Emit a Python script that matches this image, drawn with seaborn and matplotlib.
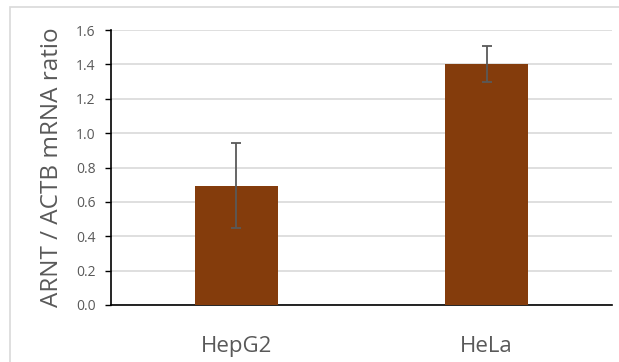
import seaborn as sns
import matplotlib.pyplot as plt
import pandas as pd
from matplotlib.patches import Rectangle

# data
cell_lines = ['HepG2', 'HeLa']
ratio = [0.695, 1.40]
ratio_err = [0.245, 0.105]
y_ticks = [0.0, 0.2, 0.4, 0.6, 0.8, 1.0, 1.2, 1.4, 1.6]

df = pd.DataFrame({'cell': cell_lines, 'ratio': ratio})

sns.set_style('white')
plt.rcParams['font.family'] = ['Open Sans', 'DejaVu Sans']

fig = plt.figure(figsize=(6.19, 3.62), dpi=100)
ax = fig.add_axes([111 / 619, 1 - 305 / 362, (612 - 111) / 619, (305 - 30) / 362])

# light outer frame like the Excel chart area
fig.patches.append(Rectangle((10 / 619, -0.1), 1.0, 1 - 7 / 362 + 0.1, transform=fig.transFigure,
                             fill=False, edgecolor='#D9D9D9', linewidth=1.2, zorder=0))

sns.barplot(data=df, x='cell', y='ratio', color='#843C0C', width=0.33,
            errorbar=None, saturation=1, edgecolor='none', ax=ax, zorder=3)
ax.errorbar(range(len(cell_lines)), ratio, yerr=ratio_err, fmt='none',
            ecolor='#595959', elinewidth=1.3, capsize=3.3, capthick=1.3, zorder=4)

ax.set_ylim(0, 1.6)
ax.set_xlim(-0.5, 1.5)
ax.set_yticks(y_ticks)
ax.set_yticklabels([f'{v:.1f}' for v in y_ticks])
ax.yaxis.grid(True, color='#D9D9D9', linewidth=1.2, zorder=0)
ax.set_axisbelow(True)

for s in ['top', 'right']:
    ax.spines[s].set_visible(False)
for s in ['left', 'bottom']:
    ax.spines[s].set_color('black')
    ax.spines[s].set_linewidth(1.2)

ax.tick_params(axis='y', left=True, length=4, width=1, color='black', pad=7,
               labelsize=10, labelcolor='#595959')
ax.tick_params(axis='x', bottom=False, pad=19, labelsize=16, labelcolor='#595959')

ax.set_xlabel('')
ax.set_ylabel('ARNT / ACTB mRNA ratio', fontsize=17.5, color='#595959')
ax.yaxis.set_label_coords(-(111 - 64) / 501, 0.5)

fig.savefig('out.png', dpi=100)
